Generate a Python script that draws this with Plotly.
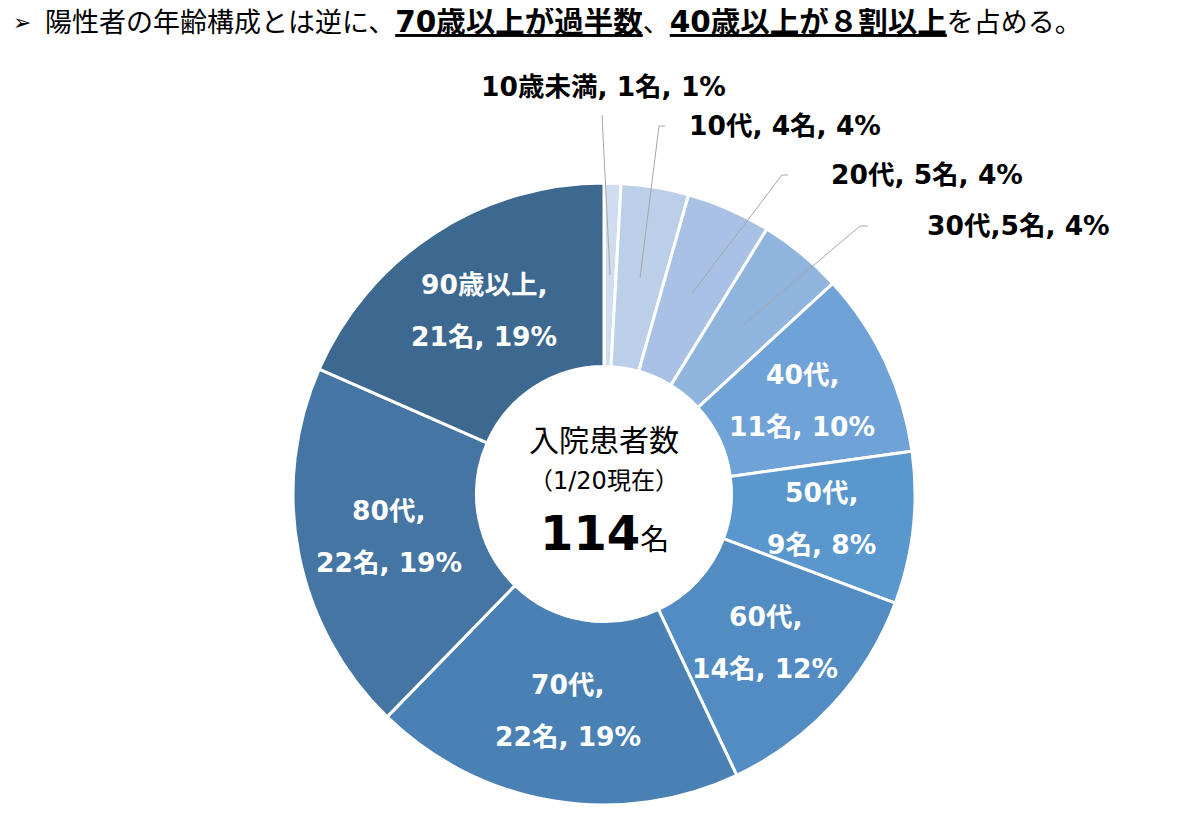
import numpy as np
import plotly.graph_objects as go

categories = ["10歳未満", "10代", "20代", "30代", "40代", "50代", "60代", "70代", "80代", "90歳以上"]
counts = [1, 4, 5, 5, 11, 9, 14, 22, 22, 21]
percents = [1, 4, 4, 4, 10, 8, 12, 19, 19, 19]
colors = ["#D0DCEF", "#BCCFE8", "#A8C1E4", "#8FB4DD", "#6FA2D6",
          "#5997CD", "#528CC2", "#4A81B4", "#4475A3", "#3D6990"]
outside_labels = ["10歳未満, 1名, 1%", "10代, 4名, 4%", "20代, 5名, 4%", "30代,5名, 4%"]
total_label = "114"

OFF = 8  # page body margin
W, H = 1192 - OFF, 818 - OFF
D = 622  # pie diameter in px
L, T = 293 - OFF, 183 - OFF
R, B = W - L - D, H - T - D
HOLE = 0.41

def X(px):
    return (px - OFF - L) / D

def Y(py):
    return (H - B - (py - OFF)) / D

FONT = "DejaVu Sans, Noto Sans CJK JP, sans-serif"

fig = go.Figure(go.Pie(
    labels=categories, values=counts, sort=False, direction="clockwise",
    rotation=0, hole=HOLE, textinfo="none", hoverinfo="skip",
    marker=dict(colors=colors, line=dict(color="white", width=3)),
    domain=dict(x=[0, 1], y=[0, 1]), showlegend=False,
))

vals = np.array(counts, dtype=float)
cum = np.cumsum(vals) - vals / 2
theta = cum / vals.sum() * 2 * np.pi
r_mid = (HOLE + 1) / 2 * 0.5  # in paper units (radius = 0.5)
cx, cy = 0.5, 0.5

annotations = []
shapes = []

# inside labels (slices 4..9)
for i in range(4, len(categories)):
    x = cx + r_mid * np.sin(theta[i])
    y = cy + r_mid * np.cos(theta[i])
    line1 = f"{categories[i]},"
    line2 = f"{counts[i]}名, {percents[i]}%"
    for txt, ys in ((line1, 26), (line2, -26)):
        annotations.append(dict(x=x, y=y, xref="paper", yref="paper", text=f"<b>{txt}</b>",
                                showarrow=False, yshift=ys, xanchor="center", yanchor="middle",
                                font=dict(family=FONT, size=26.5, color="white")))

# outside labels with leader lines
label_pos = [(479, 87), (687, 126), (829, 174), (925, 225)]
leader_start = [(602, 115, 602), (665, 126, 659), (788, 175, 782), (868, 226, 860)]
for i in range(4):
    lx, ly = label_pos[i]
    annotations.append(dict(x=X(lx), y=Y(ly), xref="paper", yref="paper",
                            text=f"<b>{outside_labels[i]}</b>", showarrow=False,
                            xanchor="left", yanchor="middle",
                            font=dict(family=FONT, size=26.5, color="black")))
    ex = cx + r_mid * np.sin(theta[i])
    ey = cy + r_mid * np.cos(theta[i])
    sx, sy, kx = leader_start[i]
    path = f"M {X(sx)} {Y(sy)} L {X(kx)} {Y(sy)} L {ex} {ey}"
    shapes.append(dict(type="path", xref="paper", yref="paper", path=path,
                       line=dict(color="#A6A6A6", width=1)))

# center text
annotations += [
    dict(x=0.5, y=Y(438), xref="paper", yref="paper", text="入院患者数", showarrow=False,
         font=dict(family="Noto Sans CJK JP", size=30, color="black")),
    dict(x=0.5, y=Y(481), xref="paper", yref="paper", text="（1/20現在）", showarrow=False,
         font=dict(family=FONT, size=24, color="black")),
    dict(x=0.5, y=Y(533), xref="paper", yref="paper",
         text=f"<b>{total_label}</b><span style='font-size:29px'>名</span>", showarrow=False,
         font=dict(family=FONT, size=48, color="black")),
]

# title
annotations += [
    dict(x=X(11), y=Y(22), xref="paper", yref="paper", text="➢", showarrow=False,
         xanchor="left", yanchor="middle", font=dict(family="DejaVu Sans", size=22, color="black")),
    dict(x=X(44), y=Y(22), xref="paper", yref="paper",
         text=("陽性者の年齢構成とは逆に、"
               "<span style='font-size:29.5px'><b><u>70歳以上が過半数</u></b></span>、"
               "<span style='font-size:29.5px'><b><u>40歳以上が８割以上</u></b></span>を占める。"),
         showarrow=False, xanchor="left", yanchor="middle", borderpad=0,
         font=dict(family=FONT, size=27, color="black")),
]

fig.update_layout(
    width=W, height=H, margin=dict(l=L, r=R, t=T, b=B),
    paper_bgcolor="white", plot_bgcolor="white",
    annotations=annotations, shapes=shapes,
)

fig.write_html("out.html")
